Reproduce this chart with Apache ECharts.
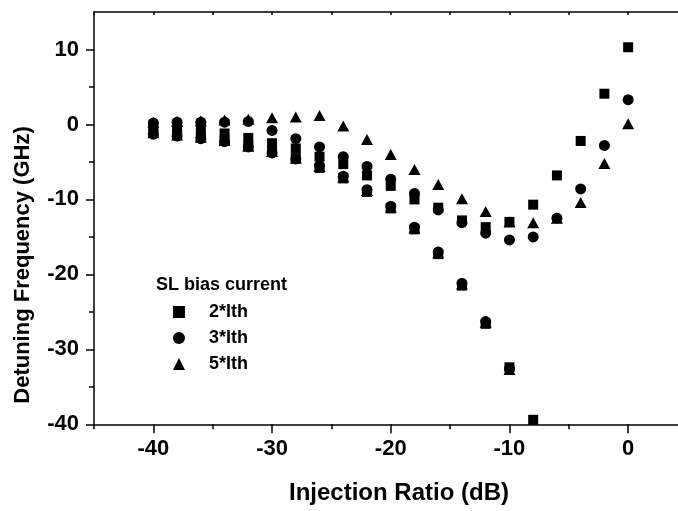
<!DOCTYPE html>
<html>
<head>
<meta charset="utf-8">
<script src="https://cdn.jsdelivr.net/npm/echarts@6/dist/echarts.min.js"></script>
<style>
  html, body { margin: 0; padding: 0; background: #fff; }
  #chart { width: 678px; height: 511px; }
</style>
</head>
<body>
<div id="chart"></div>
<script>
// ---------- data ----------
var injectionRatio = [-40, -38, -36, -34, -32, -30, -28, -26, -24, -22, -20, -18, -16, -14, -12, -10, -8, -6, -4, -2, 0];

var ith2Upper = [-0.3, -0.5, -0.8, -1.2, -1.8, -2.5, -3.2, -4.3, -5.3, -6.8, -8.2, -10.0, -11.1, -12.8, -13.7, -13.0, -10.7, -6.8, -2.2, 4.1, 10.3];
var ith3Upper = [0.2, 0.3, 0.3, 0.3, 0.4, -0.8, -1.9, -3.0, -4.3, -5.6, -7.3, -9.2, -11.4, -13.1, -14.5, -15.4, -15.0, -12.5, -8.6, -2.8, 3.3];
var ith5Upper = [0.3, 0.4, 0.5, 0.6, 0.7, 0.9, 1.0, 1.2, -0.2, -2.0, -4.0, -6.0, -8.0, -9.9, -11.6, -13.0, -13.1, -12.5, -10.4, -5.2, 0.1];

var ith2Lower = [-1.1, -1.35, -1.7, -2.1, -2.9, -3.6, -4.5, -5.8, -7.2, -9.0, -11.2, -14.0, -17.3, -21.5, -26.6, -32.4, -39.4, null, null, null, null];
var ith3Lower = [-1.3, -1.55, -1.9, -2.3, -3.0, -3.8, -4.6, -5.5, -6.9, -8.7, -10.9, -13.7, -17.0, -21.2, -26.3, -32.6, null, null, null, null, null];
var ith5Lower = [-1.1, -1.4, -1.7, -2.1, -2.9, -3.6, -4.5, -5.6, -7.0, -8.8, -11.0, -13.8, -17.1, -21.3, -26.4, -32.7, null, null, null, null, null];

var seriesNames = ['2*Ith', '3*Ith', '5*Ith'];
var xMajorTicks = [-40, -30, -20, -10, 0];
var xMinorTicks = [-45, -35, -25, -15, -5];
var xAllTicks = [-45, -40, -35, -30, -25, -20, -15, -10, -5, 0];
var yTicks = [-40, -30, -20, -10, 0, 10];
var xLabelText = 'Injection Ratio (dB)';
var yLabelText = 'Detuning Frequency (GHz)';
var legendTitle = 'SL bias current';

// ---------- helpers ----------
function pairs(xs, a, b) {
  var out = [];
  for (var i = 0; i < xs.length; i++) {
    if (a[i] !== null && a[i] !== undefined) out.push([xs[i], a[i]]);
    if (b[i] !== null && b[i] !== undefined) out.push([xs[i], b[i]]);
  }
  return out;
}

var FONT = '"Liberation Sans", Arial, sans-serif';
var chart = echarts.init(document.getElementById('chart'), null, { renderer: 'canvas' });

var axisLineStyle = { color: '#000', width: 1.5 };
var tickLineStyle = { color: '#000', width: 1.5 };

var option = {
  animation: false,
  backgroundColor: '#fff',
  grid: { left: 94, top: 12, right: 0, bottom: 86.7, containLabel: false },
  legend: {
    data: [
      { name: seriesNames[0], icon: 'rect' },
      { name: seriesNames[1], icon: 'circle' },
      { name: seriesNames[2], icon: 'triangle' }
    ],
    orient: 'vertical',
    left: 168,
    top: 298,
    itemWidth: 12,
    itemHeight: 12,
    itemGap: 8,
    selectedMode: false,
    textStyle: { fontFamily: FONT, fontWeight: 'bold', fontSize: 18, color: '#000', padding: [0, 0, 0, 19], lineHeight: 18 }
  },
  graphic: [
    {
      type: 'text', left: 156, top: 276,
      style: { text: legendTitle, fontFamily: FONT, fontWeight: 'bold', fontSize: 18, fill: '#000' }
    },
    {
      type: 'text', x: 399, y: 493,
      style: { text: xLabelText, fontFamily: FONT, fontWeight: 'bold', fontSize: 24, fill: '#000', align: 'center', verticalAlign: 'middle' }
    },
    {
      type: 'text', x: 23, y: 265, rotation: Math.PI / 2,
      style: { text: yLabelText, fontFamily: FONT, fontWeight: 'bold', fontSize: 22, fill: '#000', align: 'center', verticalAlign: 'middle' }
    }
  ],
  xAxis: [
    {
      type: 'value', min: -45, max: 4.2, position: 'bottom',
      axisLine: { show: true, onZero: false, lineStyle: axisLineStyle },
      axisTick: { show: true, inside: false, length: 9, lineStyle: tickLineStyle, customValues: xMajorTicks },
      axisLabel: { show: true, customValues: xMajorTicks, margin: 14, fontFamily: FONT, fontWeight: 'bold', fontSize: 22, color: '#000' },
      splitLine: { show: false }
    },
    {
      type: 'value', min: -45, max: 4.2, position: 'bottom',
      axisLine: { show: false, onZero: false },
      axisTick: { show: true, inside: false, length: 5, lineStyle: tickLineStyle, customValues: xMinorTicks },
      axisLabel: { show: false },
      splitLine: { show: false }
    },
    {
      type: 'value', min: -45, max: 4.2, position: 'top',
      axisLine: { show: true, onZero: false, lineStyle: axisLineStyle },
      axisTick: { show: true, inside: true, length: 3, lineStyle: tickLineStyle, customValues: xAllTicks },
      axisLabel: { show: false },
      splitLine: { show: false }
    }
  ],
  yAxis: [
    {
      type: 'value', min: -40, max: 15, interval: 10, position: 'left',
      axisLine: { show: true, onZero: false, lineStyle: axisLineStyle },
      axisTick: { show: true, inside: false, length: 8, lineStyle: tickLineStyle, customValues: yTicks },
      minorTick: { show: true, splitNumber: 2, length: 5, lineStyle: tickLineStyle },
      axisLabel: { show: true, customValues: yTicks, margin: 15, fontFamily: FONT, fontWeight: 'bold', fontSize: 22, color: '#000' },
      splitLine: { show: false },
      minorSplitLine: { show: false }
    }
  ],
  series: [
    {
      name: seriesNames[0], type: 'scatter', symbol: 'rect', symbolSize: 10,
      itemStyle: { color: '#000', opacity: 1 },
      data: pairs(injectionRatio, ith2Upper, ith2Lower), z: 3
    },
    {
      name: seriesNames[1], type: 'scatter', symbol: 'circle', symbolSize: 11,
      itemStyle: { color: '#000', opacity: 1 },
      data: pairs(injectionRatio, ith3Upper, ith3Lower), z: 4
    },
    {
      name: seriesNames[2], type: 'scatter', symbol: 'triangle', symbolSize: [12, 11],
      itemStyle: { color: '#000', opacity: 1 },
      data: pairs(injectionRatio, ith5Upper, ith5Lower), z: 5
    }
  ]
};
chart.setOption(option);
</script>
</body>
</html>
